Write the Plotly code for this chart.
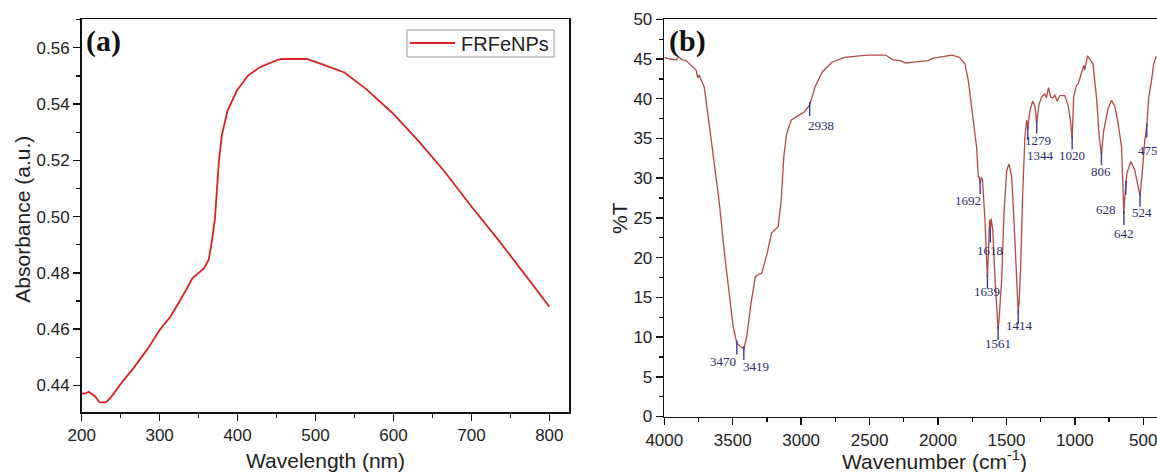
import plotly.graph_objects as go

# ---------------- Panel (a): UV-Vis ----------------
wavelength = [200, 205, 209, 213, 217, 223, 231, 238, 252, 266, 285, 300, 314, 328, 342,
              357, 363, 367, 371, 376, 380, 387, 399, 413, 428, 449, 456, 470, 489, 508,
              537, 565, 598, 632, 665, 698, 736, 769, 800]
absorbance = [0.4371, 0.4372, 0.4378, 0.4370, 0.4362, 0.4340, 0.4340, 0.4360, 0.4413, 0.4460,
              0.4532, 0.4597, 0.4645, 0.4710, 0.4781, 0.4817, 0.4847, 0.4912, 0.4995, 0.5197,
              0.5292, 0.5375, 0.5447, 0.5500, 0.5530, 0.5554, 0.5560, 0.5560, 0.5560, 0.5542,
              0.5512, 0.5453, 0.5370, 0.5269, 0.5162, 0.5043, 0.4912, 0.4793, 0.4680]
series_a_name = "FRFeNPs"

# ---------------- Panel (b): FTIR ----------------
wavenumber = [4000, 3960, 3911, 3897, 3870, 3843, 3803, 3768, 3755, 3745, 3735, 3708, 3676,
              3641, 3600, 3560, 3533, 3497, 3470, 3443, 3419, 3397, 3370, 3335, 3310, 3289,
              3249, 3216, 3168, 3146, 3127, 3106, 3073, 3019, 2979, 2938, 2898, 2844, 2776,
              2681, 2519, 2384, 2330, 2276, 2236, 2182, 2074, 2033, 1952, 1898, 1844, 1803,
              1779, 1743, 1718, 1706, 1700, 1692, 1684, 1675, 1657, 1645, 1639, 1632, 1628,
              1623, 1618, 1612, 1606, 1600, 1583, 1566, 1561, 1555, 1535, 1518, 1498, 1481,
              1462, 1445, 1425, 1414, 1407, 1396, 1382, 1365, 1352, 1344, 1336, 1328, 1309,
              1292, 1279, 1263, 1244, 1220, 1208, 1193, 1176, 1159, 1147, 1130, 1110, 1074,
              1050, 1033, 1020, 1009, 989, 975, 949, 935, 928, 908, 888, 868, 841, 822, 806,
              789, 757, 732, 708, 684, 659, 642, 636, 628, 620, 591, 562, 538, 524, 508, 489,
              475, 460, 440, 425, 410, 400]
transmittance = [45.2, 45.0, 44.9, 45.3, 44.9, 44.8, 44.2, 43.6, 42.6, 43.0, 42.5, 41.5, 37.3,
                 32.7, 27.2, 20.5, 16.3, 11.3, 9.2, 8.8, 8.5, 10.1, 13.8, 17.6, 17.9, 18.0,
                 20.5, 23.1, 23.9, 27.2, 32.7, 35.6, 37.3, 37.9, 38.3, 39.2, 41.5, 43.4, 44.6,
                 45.2, 45.5, 45.5, 44.9, 44.8, 44.5, 44.6, 44.8, 45.1, 45.3, 45.5, 45.2, 44.4,
                 42.3, 37.3, 33.9, 30.2, 30.2, 29.4, 30.1, 29.8, 24.7, 19.7, 17.5, 20.5, 23.5,
                 24.8, 23.3, 24.9, 24.2, 23.5, 17.2, 13.0, 11.0, 12.0, 17.2, 25.6, 31.0, 31.8,
                 30.2, 24.7, 16.3, 13.0, 14.5, 18.9, 27.7, 35.2, 37.3, 36.2, 37.5, 38.5, 39.7,
                 39.0, 37.0, 39.2, 40.2, 40.6, 40.1, 41.4, 40.2, 40.1, 40.5, 39.7, 40.4, 40.4,
                 39.2, 37.3, 35.0, 40.2, 41.7, 41.9, 43.4, 44.2, 43.6, 45.4, 44.9, 44.4, 40.0,
                 35.2, 33.0, 36.0, 38.8, 39.8, 39.0, 36.9, 33.9, 25.5, 27.5, 29.3, 30.6, 32.1,
                 31.0, 28.9, 27.8, 30.6, 34.8, 36.5, 40.2, 42.3, 44.3, 45.2, 45.3]

peak_labels = ["3470", "3419", "2938", "1692", "1639", "1618", "1561", "1414", "1344",
               "1279", "1020", "806", "642", "628", "524", "475"]
peak_wn = [3470, 3419, 2938, 1692, 1639, 1618, 1561, 1414, 1344, 1279, 1020, 806, 642, 628, 524, 475]
peak_T = [9.2, 8.5, 39.2, 29.4, 17.5, 23.3, 11.0, 13.0, 36.2, 37.0, 35.0, 33.0, 25.5, 29.3, 27.8, 36.5]
# label placement offsets in pixels (dx right, dy down) relative to the peak point
label_dx = [-14, 12, 11, -12, 0, 0, 0, 1, 13, 1, 0, 0, 0, -20, 2, 1]
label_dy = [18, 18, 20, 18, 14, 19, 14, 12, 27, 18, 17, 17, 20, 26, 17, 24]

W, H = 1157, 472
# plot areas in window pixels
A_L, A_R, A_T, A_B = 81.7, 569.3, 19.3, 412.0
B_L, B_R, B_T, B_B = 664.3, 1157.0, 19.3, 416.5

def px(x):
    return x / W

def py(y):
    return 1 - y / H

fig = go.Figure()
fig.add_trace(go.Scatter(x=wavelength, y=absorbance, mode="lines", name=series_a_name,
                         line=dict(color="#d92323", width=1.8), xaxis="x", yaxis="y",
                         showlegend=False, hoverinfo="skip"))
fig.add_trace(go.Scatter(x=wavenumber, y=transmittance, mode="lines", name="FTIR",
                         line=dict(color="#b24a48", width=1.3), xaxis="x2", yaxis="y2",
                         showlegend=False, hoverinfo="skip"))

tickfont = dict(family="Liberation Sans, Arial, sans-serif", size=17, color="#222")
axis_common = dict(showgrid=False, zeroline=False, showline=True, linecolor="#111",
                   linewidth=1.6, ticks="outside", ticklen=7, tickwidth=1.5,
                   tickcolor="#111", tickfont=tickfont, automargin=False)

fig.update_layout(
    template="none",
    width=W, height=H,
    margin=dict(l=0, r=0, t=0, b=0, pad=0),
    paper_bgcolor="white", plot_bgcolor="white",
    showlegend=False,
    xaxis=dict(domain=[px(A_L), px(A_R)], range=[200, 825.6], tick0=200, dtick=100,
               mirror=True, anchor="y",
               minor=dict(dtick=50, ticks="outside", ticklen=4, tickwidth=1.3, tickcolor="#111"),
               **axis_common),
    yaxis=dict(domain=[py(A_B), py(A_T)], range=[0.4306, 0.5701], tick0=0.44, dtick=0.02,
               tickformat=".2f", mirror=True, anchor="x",
               minor=dict(dtick=0.01, ticks="outside", ticklen=4, tickwidth=1.3, tickcolor="#111"),
               **axis_common),
    xaxis2=dict(domain=[px(B_L), 1.0], range=[4000, 400], tick0=0, dtick=500,
                mirror=True, anchor="y2", ticklabeloverflow="allow",
                minor=dict(dtick=250, ticks="outside", ticklen=4, tickwidth=1.3, tickcolor="#111"),
                **axis_common),
    yaxis2=dict(domain=[py(B_B), py(B_T)], range=[0, 50], dtick=5,
                mirror=True, anchor="x2",
                minor=dict(dtick=2.5, ticks="outside", ticklen=4, tickwidth=1.3, tickcolor="#111"),
                **axis_common),
)

title_font = dict(family="Liberation Sans, Arial, sans-serif", size=21, color="#222")
ann = []
ann.append(dict(text="Wavelength (nm)", x=px((A_L + A_R) / 2), y=py(460), xref="paper",
                yref="paper", showarrow=False, font=title_font, xanchor="center", yanchor="middle"))
ann.append(dict(text="Absorbance (a.u.)", x=px(21.7), y=py(219), xref="paper", yref="paper",
                showarrow=False, font=title_font, textangle=-90, xanchor="center", yanchor="middle"))
ann.append(dict(text="Wavenumber (cm<sup>-1</sup>)", x=px(934), y=py(460), xref="paper",
                yref="paper", showarrow=False, font=title_font, xanchor="center", yanchor="middle"))
ann.append(dict(text="%T", x=px(619), y=py(218), xref="paper", yref="paper",
                showarrow=False, font=title_font, textangle=-90, xanchor="center", yanchor="middle"))
panel_font = dict(family="Liberation Serif, Times New Roman, serif", size=30, color="#111")
ann.append(dict(text="<b>(a)</b>", x=px(84), y=py(41), xref="paper", yref="paper",
                showarrow=False, font=panel_font, xanchor="left", yanchor="middle"))
ann.append(dict(text="<b>(b)</b>", x=px(667), y=py(41), xref="paper", yref="paper",
                showarrow=False, font=panel_font, xanchor="left", yanchor="middle"))

shapes = []
# legend box for panel (a)
shapes.append(dict(type="rect", xref="paper", yref="paper", x0=px(407), x1=px(554),
                   y0=py(57), y1=py(30), line=dict(color="#999", width=1), fillcolor="white"))
shapes.append(dict(type="line", xref="paper", yref="paper", x0=px(410), x1=px(455),
                   y0=py(43), y1=py(43), line=dict(color="#d92323", width=1.8)))
ann.append(dict(text=series_a_name, x=px(459), y=py(43.5), xref="paper", yref="paper",
                showarrow=False, xanchor="left", yanchor="middle",
                font=dict(family="Liberation Sans, Arial, sans-serif", size=20, color="#222")))

peak_font = dict(family="Liberation Serif, Times New Roman, serif", size=13, color="#2c2c6c")
for lab, wn, t, dx, dy in zip(peak_labels, peak_wn, peak_T, label_dx, label_dy):
    ann.append(dict(text=lab, x=wn, y=t, xref="x2", yref="y2", showarrow=False,
                    font=peak_font, xanchor="center", yanchor="middle",
                    xshift=dx, yshift=-dy))
    shapes.append(dict(type="line", xref="x2", yref="y2", x0=wn, x1=wn,
                       ysizemode="pixel", yanchor=t, y0=3, y1=-11,
                       line=dict(color="#3b3ba0", width=1.4)))

fig.update_layout(annotations=ann, shapes=shapes, hovermode=False, dragmode=False)
fig.write_html(
    "out.html",
    config={"displayModeBar": False, "staticPlot": True},
    post_script="document.body.style.margin='0';document.documentElement.style.overflow='hidden';document.body.style.overflow='hidden';",
)
